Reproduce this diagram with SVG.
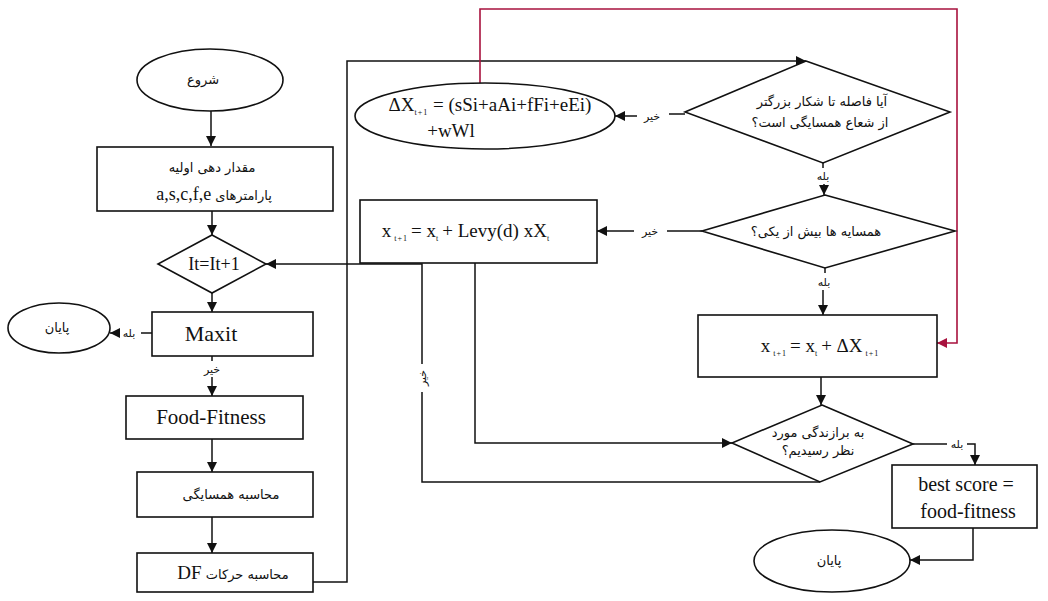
<svg xmlns="http://www.w3.org/2000/svg" width="1048" height="601" viewBox="0 0 1048 601">
<style>
.s{fill:#fff;stroke:#111;stroke-width:1.6}
.c{fill:none;stroke:#111;stroke-width:1.5}
.r{fill:none;stroke:#a8123e;stroke-width:1.6}
.t{font-family:"Liberation Serif","DejaVu Sans",serif;fill:#111;text-anchor:middle}
.fa{font-family:"DejaVu Sans","Liberation Serif",sans-serif;font-size:13px;fill:#111;text-anchor:middle}
.p{font-family:"DejaVu Sans",sans-serif;font-size:13px}
.lb{font-family:"DejaVu Sans",sans-serif;font-size:11px;fill:#111;text-anchor:middle}
.sub{font-size:8px;letter-spacing:1px}
</style>
<defs>
<marker id="a" viewBox="0 0 10 10" refX="10" refY="5" markerWidth="10" markerHeight="10" markerUnits="userSpaceOnUse" orient="auto"><path d="M0,0L10,5L0,10z" fill="#111"/></marker>
<marker id="ar" viewBox="0 0 10 10" refX="10" refY="5" markerWidth="10" markerHeight="10" markerUnits="userSpaceOnUse" orient="auto"><path d="M0,0L10,5L0,10z" fill="#a8123e"/></marker>
</defs>
<rect width="1048" height="601" fill="#fff"/>

<g id="connectors">
<path class="c" d="M211,111V146" marker-end="url(#a)"/>
<path class="c" d="M212,211V235" marker-end="url(#a)"/>
<path class="c" d="M212,293V312" marker-end="url(#a)"/>
<path class="c" d="M152,333H141"/>
<path class="c" d="M117,333H110" marker-end="url(#a)"/>
<text class="lb" x="129" y="337">بله</text>
<path class="c" d="M212,356V361"/>
<path class="c" d="M212,377V396" marker-end="url(#a)"/>
<text class="lb" x="212" y="373">خیر</text>
<path class="c" d="M212,439V472" marker-end="url(#a)"/>
<path class="c" d="M212,517V553" marker-end="url(#a)"/>
<path class="c" d="M313,582H347V61H806" marker-end="url(#a)"/>
<path class="c" d="M685,114H669"/>
<path class="c" d="M637,116H615" marker-end="url(#a)"/>
<text class="lb" x="652" y="120">خیر</text>
<path class="r" d="M480,84V9H957V343H937" marker-end="url(#ar)"/>
<path class="c" d="M823,163V168"/>
<path class="c" d="M824,184V195" marker-end="url(#a)"/>
<text class="lb" x="823" y="180">بله</text>
<path class="c" d="M702,231H667"/>
<path class="c" d="M634,231H597" marker-end="url(#a)"/>
<text class="lb" x="650" y="235">خیر</text>
<path class="c" d="M825,268V273"/>
<path class="c" d="M823,290V315" marker-end="url(#a)"/>
<text class="lb" x="824" y="286">بله</text>
<path class="c" d="M475,263V443H732" marker-end="url(#a)"/>
<path class="c" d="M820,482H422V392"/>
<path class="c" d="M422,364V264H266" marker-end="url(#a)"/>
<text class="lb" x="0" y="0" transform="translate(426,378) rotate(-90)">خیر</text>
<path class="c" d="M821,377V405" marker-end="url(#a)"/>
<path class="c" d="M913,444H947"/>
<path class="c" d="M967,444H975V465" marker-end="url(#a)"/>
<text class="lb" x="957" y="448">بله</text>
<path class="c" d="M973,528V560H910" marker-end="url(#a)"/>
</g>

<g id="start"><ellipse class="s" cx="210" cy="80" rx="73" ry="31"/><text class="fa" x="203" y="84">شروع</text></g>
<g id="init"><rect class="s" x="97" y="147" width="236" height="64"/>
<text class="fa" x="212" y="172" font-size="14">مقدار دهی اولیه</text>
<text class="t" x="214" y="200" font-size="18" direction="rtl"><tspan class="p">پارامترهای </tspan>a,s,c,f,e</text></g>
<g id="iter"><polygon class="s" points="212,235 266,264 212,293 158,264"/><text class="t" x="214" y="270" font-size="18">It=It+1</text></g>
<g id="maxit"><rect class="s" x="152" y="312" width="161" height="44"/><text class="t" x="211" y="341" font-size="22">Maxit</text></g>
<g id="end1"><ellipse class="s" cx="59" cy="328" rx="51" ry="25"/><text class="fa" x="57" y="332">پایان</text></g>
<g id="food"><rect class="s" x="126" y="396" width="177" height="43"/><text class="t" x="211" y="424" font-size="21">Food-Fitness</text></g>
<g id="neigh"><rect class="s" x="137" y="472" width="176" height="45"/><text class="fa" x="231" y="499">محاسبه همسایگی</text></g>
<g id="df"><rect class="s" x="137" y="553" width="176" height="39"/><text class="t" x="233" y="579" font-size="19" direction="rtl"><tspan class="p">محاسبه حرکات </tspan>DF</text></g>

<g id="dx"><ellipse class="s" cx="485" cy="116" rx="130" ry="33"/>
<text class="t" x="490" y="111" font-size="19"><tspan>ΔX</tspan><tspan class="sub" dy="4">t+1</tspan><tspan dy="-4"> = (sSi+aAi+fFi+eEi)</tspan></text>
<text class="t" x="451" y="137" font-size="19">+wWl</text></g>
<g id="q1"><polygon class="s" points="806,61 950,112 823,163 685,112"/>
<text class="fa" x="822" y="106" font-size="13.5">آیا فاصله تا شکار بزرگتر</text>
<text class="fa" x="820" y="127" font-size="13.5">از شعاع همسایگی است؟</text></g>
<g id="levy"><rect class="s" x="360" y="200" width="237" height="63"/>
<text class="t" x="466" y="237" font-size="19"><tspan>x</tspan><tspan class="sub" dy="4"> t+1 </tspan><tspan dy="-4">= x</tspan><tspan class="sub" dy="4">t </tspan><tspan dy="-4">+ Levy(d) xX</tspan><tspan class="sub" dy="4">t</tspan></text></g>
<g id="q2"><polygon class="s" points="825,195 955,231 825,268 702,231"/>
<text class="fa" x="816" y="236">همسایه ها بیش از یکی؟</text></g>
<g id="update"><rect class="s" x="698" y="315" width="239" height="62"/>
<text class="t" x="820" y="352" font-size="19"><tspan>x</tspan><tspan class="sub" dy="4"> t+1 </tspan><tspan dy="-4">= x</tspan><tspan class="sub" dy="4">t </tspan><tspan dy="-4">+ ΔX</tspan><tspan class="sub" dy="4"> t+1</tspan></text></g>
<g id="q3"><polygon class="s" points="822,405 913,444 820,482 732,443"/>
<text class="fa" x="818" y="437">به برازندگی مورد</text>
<text class="fa" x="818" y="455">نظر رسیدیم؟</text></g>
<g id="best"><rect class="s" x="892" y="465" width="145" height="63"/>
<text class="t" x="966" y="491" font-size="20">best score =</text>
<text class="t" x="968" y="518" font-size="20">food-fitness</text></g>
<g id="end2"><ellipse class="s" cx="832" cy="561" rx="78" ry="31"/><text class="fa" x="829" y="565">پایان</text></g>
</svg>
